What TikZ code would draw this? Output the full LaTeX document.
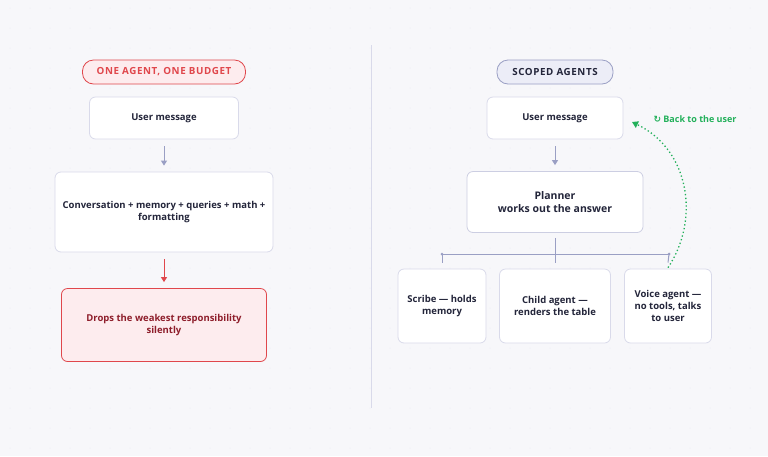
\documentclass[tikz,border=0pt]{standalone}
\usepackage{fontspec}
\setmainfont{Open Sans}
\newfontfamily\symfont{DejaVu Sans}
\usetikzlibrary{arrows.meta,positioning}
\definecolor{bgc}{HTML}{F7F7FA}
\definecolor{ink}{HTML}{23253A}
\definecolor{edge}{HTML}{D9DAEA}
\definecolor{arr}{HTML}{9A9FC4}
\definecolor{redc}{HTML}{E0474C}
\definecolor{redfill}{HTML}{FDECEE}
\definecolor{redtext}{HTML}{8E1E2B}
\definecolor{greenc}{HTML}{22B05A}
\definecolor{pillfill}{HTML}{ECEDF7}
\tikzset{
  box/.style={draw=edge, line width=0.8pt, fill=white, rounded corners=6pt,
    align=center, font=\bfseries\fontsize{9.5}{12}\selectfont, text=ink},
  bad/.style={box, draw=redc, fill=redfill, text=redtext},
  pill/.style={draw=arr, fill=pillfill, rounded corners=11pt, line width=0.8pt,
    minimum height=24pt, font=\bfseries\fontsize{9.8}{10}\addfontfeatures{LetterSpace=6}\selectfont, text=ink},
  redpill/.style={pill, draw=redc, fill=redfill, text=redc},
  flow/.style={-{Triangle[length=5pt,width=6pt]}, draw=arr, line width=1pt},
}
\begin{document}
\begin{tikzpicture}[x=1pt,y=-1pt]
    \useasboundingbox (0,0) rectangle (768,456);
    \fill[bgc] (0,0) rectangle (768,456);
    % faint dot grid
    \foreach \i in {0,...,38} {
        \foreach \j in {0,...,22} {
            \fill[edge!60] (10+\i*20,8+\j*20) circle (0.5pt);
        }
    }
    \draw[edge, line width=0.8pt] (371,45) -- (371,408);

    % Left: single agent
    \node[redpill, minimum width=163pt] (pillL) at (164,72) {ONE AGENT, ONE BUDGET};
    \node[box, minimum width=149pt, minimum height=42pt] (userL) at (164,118) {User message};
    \node[box, minimum width=218pt, minimum height=80pt] (conv) at (164,212)
        {Conversation + memory + queries + math +\\formatting};
    \node[bad, minimum width=205pt, minimum height=73pt] (drops) at (164,325)
        {Drops the weakest responsibility\\silently};
    \draw[flow] ([yshift=-7pt]userL.south) -- ([yshift=6pt]conv.north);
    \draw[flow, draw=redc] ([yshift=-7pt]conv.south) -- ([yshift=6pt]drops.north);

    % Right: scoped agents
    \node[pill, minimum width=116pt] (pillR) at (555,72) {SCOPED AGENTS};
    \node[box, minimum width=136pt, minimum height=42pt] (userR) at (555,118) {User message};
    \node[box, draw=edge!80!arr, minimum width=176pt, minimum height=61pt,
        font=\bfseries\fontsize{10.5}{13}\selectfont] (plan) at (555,202)
        {Planner\\works out the answer};
    \node[box, minimum width=88pt, minimum height=74pt] (scribe) at (442,306) {Scribe — holds\\memory};
    \node[box, minimum width=111pt, minimum height=74pt] (child) at (555,306) {Child agent —\\renders the table};
    \node[box, minimum width=87pt, minimum height=74pt] (voice) at (668,306) {Voice agent —\\no tools, talks\\to user};
    \draw[flow] ([yshift=-7pt]userR.south) -- ([yshift=6pt]plan.north);

    % bus
    \coordinate (busL) at (442,254);
    \coordinate (busR) at (669,254);
    \draw[arr, line width=1pt] ([yshift=-5pt]plan.south) -- ([yshift=6pt]child.north);
    \draw[arr, line width=1pt] (busL) -- (busR);
    \draw[arr, line width=1pt] (busL) -- ([yshift=6pt]scribe.north);
    \draw[arr, line width=1pt] (busR) -- ([yshift=6pt]voice.north);
    \fill[arr] (busL) circle (1.5pt) (busR) circle (1.5pt);

    % return path
    \coordinate (back) at (632,122);
    \draw[greenc, line width=1.3pt, dash pattern=on 1.3pt off 2.5pt, -{Triangle[length=6pt,width=7pt]}]
        ([yshift=1pt]voice.north) .. controls (700,220) and (690,150) .. (back);
    \node[font=\bfseries\fontsize{9}{10}\selectfont, text=greenc, anchor=west] (backlbl)
        at (650,119) {{\symfont ↻} Back to the user};
\end{tikzpicture}
\end{document}
